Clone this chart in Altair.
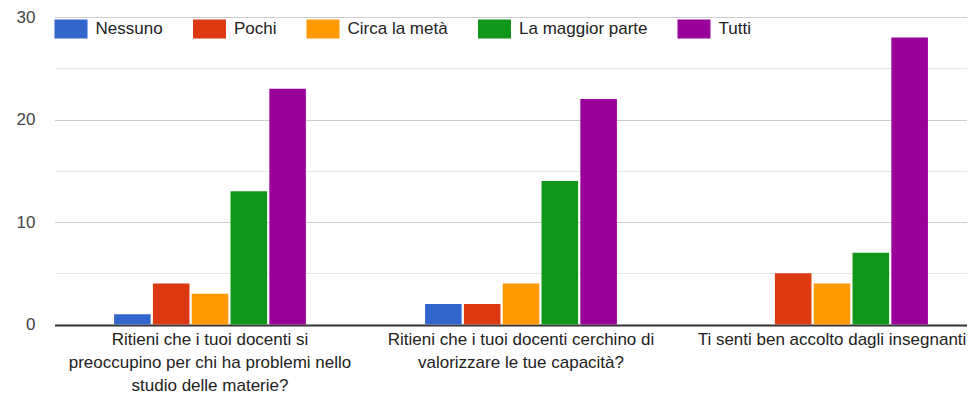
import json
import altair as alt
import pandas as pd

label_lines = [
    ["Ritieni che i tuoi docenti si", "preoccupino per chi ha problemi nello", "studio delle materie?"],
    ["Ritieni che i tuoi docenti cerchino di", "valorizzare le tue capacità?"],
    ["Ti senti ben accolto dagli insegnanti"],
]
questions = [" ".join(l) for l in label_lines]
answers = ["Nessuno", "Pochi", "Circa la metà", "La maggior parte", "Tutti"]
colors = ["#3366cc", "#dc3912", "#ff9900", "#109618", "#990099"]

nessuno = [1, 2, 0]
pochi = [4, 2, 5]
circa = [3, 4, 4]
maggior = [13, 14, 7]
tutti = [23, 22, 28]

series = [nessuno, pochi, circa, maggior, tutti]
rows = []
for a, vals in zip(answers, series):
    for q, v in zip(questions, vals):
        rows.append({"domanda": q, "risposta": a, "n": v})
df = pd.DataFrame(rows)

# multi-line x labels
expr = "[]"
for q, lines in reversed(list(zip(questions, label_lines))):
    expr = f"datum.value == {json.dumps(q, ensure_ascii=False)} ? {json.dumps(lines, ensure_ascii=False)} : {expr}"

FONT = "Liberation Sans, Arial, sans-serif"
rect_path = "M-1,-0.576L1,-0.576L1,0.576L-1,0.576Z"

chart = alt.Chart(df).mark_bar().encode(
    x=alt.X(
        "domanda:N",
        sort=questions,
        scale=alt.Scale(range=[0, 933], paddingInner=0.376, paddingOuter=0.188),
        axis=alt.Axis(
            title=None,
            ticks=False,
            domain=False,
            labelExpr=expr,
            labelAngle=0,
            labelAlign="center",
            labelBaseline="top",
            labelPadding=7,
            labelLineHeight=23,
            labelFontSize=17,
            labelColor="#222222",
            labelFont=FONT,
            labelLimit=500,
        ),
    ),
    xOffset=alt.XOffset(
        "risposta:N",
        sort=answers,
        scale=alt.Scale(paddingInner=0.058, paddingOuter=0.029),
    ),
    y=alt.Y(
        "n:Q",
        scale=alt.Scale(domain=[0, 30], nice=False),
        axis=alt.Axis(
            title=None,
            values=[0, 5, 10, 15, 20, 25, 30],
            labelExpr="datum.value % 10 == 0 ? datum.label : ''",
            domain=False,
            ticks=False,
            labelPadding=19.5,
            labelFontSize=17,
            labelColor="#444444",
            labelFont=FONT,
            gridColor={
                "condition": [
                    {"test": "datum.value == 0", "value": "#333333"},
                    {"test": "datum.value % 10 == 0", "value": "#cccccc"},
                ],
                "value": "#e6e6e6",
            },
            gridWidth={"condition": {"test": "datum.value == 0", "value": 2}, "value": 1},
        ),
    ),
    color=alt.Color(
        "risposta:N",
        sort=answers,
        scale=alt.Scale(domain=answers, range=colors),
        legend=alt.Legend(
            orient="none",
            legendX=0,
            legendY=-5,
            direction="horizontal",
            title=None,
            symbolType=rect_path,
            symbolSize=1089,
            symbolStrokeWidth=0,
            symbolOpacity=1,
            labelFontSize=17,
            labelColor="#222222",
            labelFont=FONT,
            columnPadding=29.5,
            labelOffset=8,
            padding=0,
            labelLimit=300,
        ),
    ),
).properties(
    width=912,
    height=307.5,
    autosize=alt.AutoSizeParams(type="none"),
    padding={"left": 46.5, "top": 9, "right": 0, "bottom": 70.5},
).configure(background="white").configure_view(stroke=None)

chart.save("out.html", embed_options={"renderer": "svg", "actions": False})
